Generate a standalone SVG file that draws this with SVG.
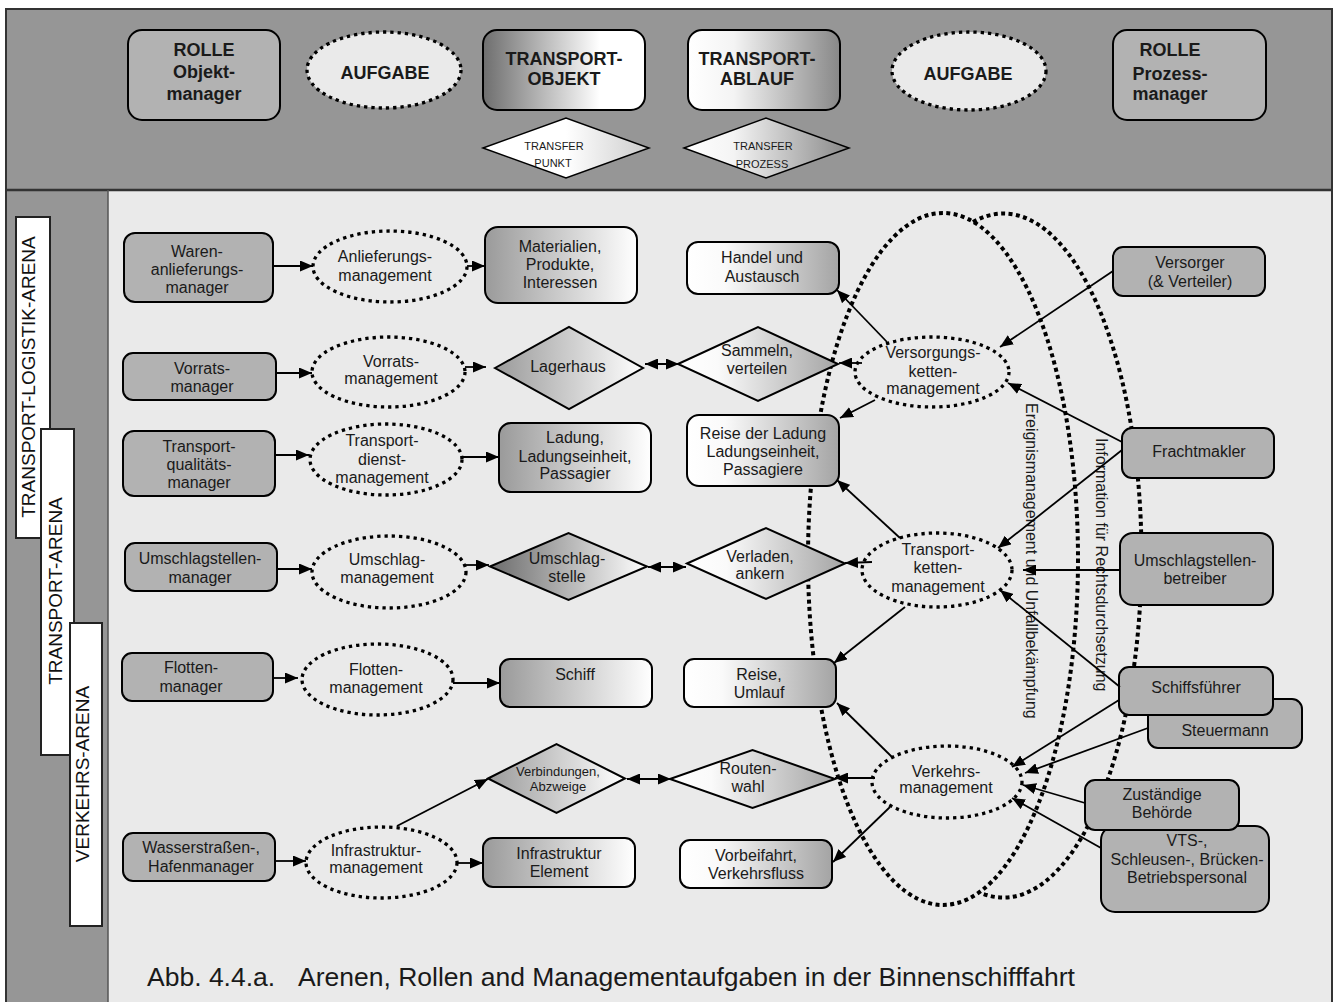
<svg xmlns="http://www.w3.org/2000/svg" width="1336" height="1002" viewBox="0 0 1336 1002">
<style>
text{font-family:"Liberation Sans",Arial,sans-serif;fill:#1a1a1a;text-anchor:middle}
.t{font-size:16px}
.hb{font-size:18px;font-weight:bold}
.sm{font-size:11px}
.s13{font-size:13px}
.arena{font-size:19px;fill:#111}
.cap{font-size:26.5px;text-anchor:start}
.vt{font-size:16px;text-anchor:start}
.role{fill:#b2b2b2;stroke:#000;stroke-width:2}
.obj{fill:url(#gObj);stroke:#000;stroke-width:2}
.proc{fill:url(#gProc);stroke:#000;stroke-width:2}
.task{fill:#eaeaea;stroke:#000;stroke-width:3.3;stroke-dasharray:3.3 4}
.big{fill:none;stroke:#000;stroke-width:4;stroke-dasharray:4 3.4}
.c{fill:none;stroke:#000;stroke-width:1.8;marker-end:url(#ah)}
.d{fill:none;stroke:#000;stroke-width:1.8;marker-end:url(#ah);marker-start:url(#ah)}
.lab{fill:#fff;stroke:#222;stroke-width:2}
</style>
<defs>
<linearGradient id="gObj" x1="0" y1="0" x2="1" y2="0"><stop offset="0" stop-color="#9a9a9a"/><stop offset="1" stop-color="#ffffff"/></linearGradient>
<linearGradient id="gObjD" x1="0" y1="0" x2="1" y2="0"><stop offset="0" stop-color="#6c6c6c"/><stop offset="1" stop-color="#ffffff"/></linearGradient>
<linearGradient id="gHObj" x1="0" y1="0" x2="1" y2="0"><stop offset="0" stop-color="#6e6e6e"/><stop offset="0.72" stop-color="#ffffff"/><stop offset="1" stop-color="#ffffff"/></linearGradient>
<linearGradient id="gProc" x1="0" y1="0" x2="1" y2="0"><stop offset="0" stop-color="#ffffff"/><stop offset="0.25" stop-color="#fafafa"/><stop offset="1" stop-color="#a4a4a4"/></linearGradient>
<linearGradient id="gHProc" x1="0" y1="0" x2="1" y2="0"><stop offset="0" stop-color="#ffffff"/><stop offset="0.3" stop-color="#f4f4f4"/><stop offset="1" stop-color="#888888"/></linearGradient>
<linearGradient id="gPunkt" x1="0" y1="0" x2="1" y2="0"><stop offset="0" stop-color="#ffffff"/><stop offset="0.5" stop-color="#ffffff"/><stop offset="1" stop-color="#cccccc"/></linearGradient>
<marker id="ah" viewBox="0 0 13 11" refX="13" refY="5.5" markerWidth="13" markerHeight="11" markerUnits="userSpaceOnUse" orient="auto-start-reverse"><path d="M0,0 L13,5.5 L0,11 z" fill="#000"/></marker>
</defs>

<g id="frame">
<rect x="6" y="9" width="1326" height="181" fill="#969696"/>
<rect x="6" y="190" width="102" height="815" fill="#969696"/>
<rect x="108" y="190" width="1224" height="815" fill="#eaeaea"/>
<path d="M6,1005 V9 H1332 V1005" fill="none" stroke="#333" stroke-width="2"/>
<line x1="6" y1="190" x2="1332" y2="190" stroke="#333" stroke-width="2.5"/>
<line x1="108" y1="190" x2="108" y2="1005" stroke="#555" stroke-width="1.5"/>
</g>

<g id="header">
<g id="h-rolle-objekt"><rect class="role" x="128" y="30" width="152" height="90" rx="14"/>
<text class="hb"><tspan x="204" y="56">ROLLE</tspan><tspan x="204" y="78">Objekt-</tspan><tspan x="204" y="100">manager</tspan></text></g>
<g id="h-aufgabe-1"><ellipse class="task" cx="384" cy="70" rx="77" ry="38" fill="#ebebeb"/><text class="hb" x="385" y="79">AUFGABE</text></g>
<g id="h-transport-objekt"><rect x="483" y="30" width="162" height="80" rx="14" fill="url(#gHObj)" stroke="#000" stroke-width="2"/>
<text class="hb"><tspan x="564" y="65">TRANSPORT-</tspan><tspan x="564" y="85">OBJEKT</tspan></text></g>
<g id="h-transfer-punkt"><polygon points="483,148 566,118 649,148 566,178" fill="url(#gPunkt)" stroke="#000" stroke-width="1.5"/>
<text class="sm"><tspan x="554" y="150">TRANSFER</tspan><tspan x="553" y="167">PUNKT</tspan></text></g>
<g id="h-transport-ablauf"><rect x="688" y="30" width="152" height="80" rx="14" fill="url(#gHProc)" stroke="#000" stroke-width="2"/>
<text class="hb"><tspan x="757" y="65">TRANSPORT-</tspan><tspan x="757" y="85">ABLAUF</tspan></text></g>
<g id="h-transfer-prozess"><polygon points="684,148 766,118 849,148 766,178" fill="url(#gHProc)" stroke="#000" stroke-width="1.5"/>
<text class="sm"><tspan x="763" y="150">TRANSFER</tspan><tspan x="762" y="168">PROZESS</tspan></text></g>
<g id="h-aufgabe-2"><ellipse class="task" cx="969" cy="71" rx="77" ry="39" fill="#ebebeb"/><text class="hb" x="968" y="80">AUFGABE</text></g>
<g id="h-rolle-prozess"><rect class="role" x="1113" y="30" width="153" height="90" rx="14"/>
<text class="hb"><tspan x="1170" y="56">ROLLE</tspan><tspan x="1170" y="80">Prozess-</tspan><tspan x="1170" y="100">manager</tspan></text></g>
</g>

<g id="arenas">
<g id="arena-tla"><rect class="lab" x="16" y="217" width="34" height="321"/><text class="arena" transform="translate(35,377) rotate(-90)">TRANSPORT-LOGISTIK-ARENA</text></g>
<g id="arena-ta"><rect class="lab" x="41" y="429" width="33" height="326"/><text class="arena" transform="translate(62,591) rotate(-90)">TRANSPORT-ARENA</text></g>
<g id="arena-va"><rect class="lab" x="70" y="623" width="32" height="303"/><text class="arena" transform="translate(89,774) rotate(-90)">VERKEHRS-ARENA</text></g>
</g>

<g id="big-ellipses">
<ellipse id="e-ereignis" class="big" cx="943" cy="559" rx="135" ry="346"/>
<path id="e-information" class="big" d="M973,222 A138,342 0 1 1 981,893"/>
<text class="vt" transform="translate(1026,403) rotate(90)">Ereignismanagement und Unfallbekämpfung</text>
<text class="vt" transform="translate(1096,438) rotate(90)">Information für Rechtsdurchsetzung</text>
</g>

<g id="nodes">
<g id="n-waren"><rect class="role" x="124" y="233" width="149" height="69" rx="11"/><text class="t"><tspan x="197" y="257">Waren-</tspan><tspan x="197" y="275">anlieferungs-</tspan><tspan x="197" y="293">manager</tspan></text></g>
<g id="n-anlieferung"><ellipse class="task" cx="390" cy="266.5" rx="77" ry="35.5"/><text class="t"><tspan x="385" y="262">Anlieferungs-</tspan><tspan x="385" y="281">management</tspan></text></g>
<g id="n-materialien"><rect class="obj" x="485" y="227" width="152" height="76" rx="13"/><text class="t"><tspan x="560" y="252">Materialien,</tspan><tspan x="560" y="270">Produkte,</tspan><tspan x="560" y="288">Interessen</tspan></text></g>
<g id="n-handel"><rect class="proc" x="687" y="242" width="152" height="52" rx="11"/><text class="t"><tspan x="762" y="263">Handel und</tspan><tspan x="762" y="282">Austausch</tspan></text></g>

<g id="n-vorrats"><rect class="role" x="123" y="353" width="153" height="47" rx="10"/><text class="t"><tspan x="202" y="374">Vorrats-</tspan><tspan x="202" y="392">manager</tspan></text></g>
<g id="n-vorratsmgmt"><ellipse class="task" cx="388.5" cy="372" rx="76.5" ry="35"/><text class="t"><tspan x="391" y="367">Vorrats-</tspan><tspan x="391" y="384">management</tspan></text></g>
<g id="n-lagerhaus"><polygon class="obj" points="495,368 569,327 643,368 569,409"/><text class="t" x="568" y="372">Lagerhaus</text></g>
<g id="n-sammeln"><polygon class="proc" points="678,364 758,327 838,364 758,401"/><text class="t"><tspan x="757" y="356">Sammeln,</tspan><tspan x="757" y="374">verteilen</tspan></text></g>

<g id="n-tqm"><rect class="role" x="123" y="431" width="152" height="65" rx="11"/><text class="t"><tspan x="199" y="452">Transport-</tspan><tspan x="199" y="470">qualitäts-</tspan><tspan x="199" y="488">manager</tspan></text></g>
<g id="n-tdm"><ellipse class="task" cx="386" cy="459.5" rx="76" ry="35.5"/><text class="t"><tspan x="382" y="446">Transport-</tspan><tspan x="382" y="465">dienst-</tspan><tspan x="382" y="483">management</tspan></text></g>
<g id="n-ladung"><rect class="obj" x="499" y="423" width="152" height="69" rx="12"/><text class="t"><tspan x="575" y="443">Ladung,</tspan><tspan x="575" y="462">Ladungseinheit,</tspan><tspan x="575" y="479">Passagier</tspan></text></g>
<g id="n-reise-ladung"><rect class="proc" x="687" y="415" width="152" height="71" rx="12"/><text class="t"><tspan x="763" y="439">Reise der Ladung</tspan><tspan x="763" y="457">Ladungseinheit,</tspan><tspan x="763" y="475">Passagiere</tspan></text></g>

<g id="n-usm"><rect class="role" x="125" y="543" width="152" height="48" rx="10"/><text class="t"><tspan x="200" y="564">Umschlagstellen-</tspan><tspan x="200" y="583">manager</tspan></text></g>
<g id="n-umschlagmgmt"><ellipse class="task" cx="389" cy="572" rx="77" ry="36"/><text class="t"><tspan x="387" y="565">Umschlag-</tspan><tspan x="387" y="583">management</tspan></text></g>
<g id="n-umschlagstelle"><polygon points="490,566.5 568.5,533 647,566.5 568.5,600" fill="url(#gObjD)" stroke="#000" stroke-width="2"/><text class="t"><tspan x="567" y="564">Umschlag-</tspan><tspan x="567" y="582">stelle</tspan></text></g>
<g id="n-verladen"><polygon class="proc" points="687,563.5 766,528 845,563.5 766,599"/><text class="t"><tspan x="760" y="562">Verladen,</tspan><tspan x="760" y="579">ankern</tspan></text></g>

<g id="n-flotten"><rect class="role" x="122" y="653" width="151" height="48" rx="10"/><text class="t"><tspan x="191" y="673">Flotten-</tspan><tspan x="191" y="692">manager</tspan></text></g>
<g id="n-flottenmgmt"><ellipse class="task" cx="377.5" cy="679.5" rx="75.5" ry="35.5"/><text class="t"><tspan x="376" y="675">Flotten-</tspan><tspan x="376" y="693">management</tspan></text></g>
<g id="n-schiff"><rect class="obj" x="500" y="659" width="152" height="48" rx="10"/><text class="t" x="575" y="680">Schiff</text></g>
<g id="n-reise-umlauf"><rect class="proc" x="684" y="659" width="152" height="48" rx="10"/><text class="t"><tspan x="759" y="680">Reise,</tspan><tspan x="759" y="698">Umlauf</tspan></text></g>

<g id="n-verbindungen"><polygon class="obj" points="488,778.5 556.5,744 625,778.5 556.5,813"/><text class="s13"><tspan x="558" y="776">Verbindungen,</tspan><tspan x="558" y="791">Abzweige</tspan></text></g>
<g id="n-routen"><polygon class="proc" points="670,779 752.5,750 835,779 752.5,808"/><text class="t"><tspan x="748" y="774">Routen-</tspan><tspan x="748" y="792">wahl</tspan></text></g>

<g id="n-wasser"><rect class="role" x="123" y="833" width="152" height="48" rx="10"/><text class="t"><tspan x="201" y="853">Wasserstraßen-,</tspan><tspan x="201" y="872">Hafenmanager</tspan></text></g>
<g id="n-inframgmt"><ellipse class="task" cx="381.5" cy="862.5" rx="75.5" ry="35.5"/><text class="t"><tspan x="376" y="856">Infrastruktur-</tspan><tspan x="376" y="873">management</tspan></text></g>
<g id="n-infraelement"><rect class="obj" x="483" y="838" width="152" height="49" rx="10"/><text class="t"><tspan x="559" y="859">Infrastruktur</tspan><tspan x="559" y="877">Element</tspan></text></g>
<g id="n-vorbeifahrt"><rect class="proc" x="680" y="840" width="152" height="48" rx="10"/><text class="t"><tspan x="756" y="861">Vorbeifahrt,</tspan><tspan x="756" y="879">Verkehrsfluss</tspan></text></g>

<g id="n-versorgungskette"><ellipse class="task" cx="932" cy="372" rx="77" ry="35"/><text class="t"><tspan x="933" y="358">Versorgungs-</tspan><tspan x="933" y="377">ketten-</tspan><tspan x="933" y="394">management</tspan></text></g>
<g id="n-transportkette"><ellipse class="task" cx="937" cy="570" rx="75" ry="37"/><text class="t"><tspan x="938" y="555">Transport-</tspan><tspan x="938" y="573">ketten-</tspan><tspan x="938" y="592">management</tspan></text></g>
<g id="n-verkehrsmgmt"><ellipse class="task" cx="947" cy="782" rx="75" ry="36"/><text class="t"><tspan x="946" y="777">Verkehrs-</tspan><tspan x="946" y="793">management</tspan></text></g>

<g id="n-versorger"><rect class="role" x="1113" y="247" width="152" height="49" rx="10"/><text class="t"><tspan x="1190" y="268">Versorger</tspan><tspan x="1190" y="287">(&amp; Verteiler)</tspan></text></g>
<g id="n-frachtmakler"><rect class="role" x="1122" y="428" width="152" height="50" rx="10"/><text class="t" x="1199" y="457">Frachtmakler</text></g>
<g id="n-usbetreiber"><rect class="role" x="1120" y="533" width="153" height="72" rx="13"/><text class="t"><tspan x="1195" y="566">Umschlagstellen-</tspan><tspan x="1195" y="584">betreiber</tspan></text></g>
<g id="n-steuermann"><rect class="role" x="1148" y="699" width="154" height="49" rx="10"/><text class="t" x="1225" y="736">Steuermann</text></g>
<g id="n-schiffsfuehrer"><rect class="role" x="1119" y="667" width="154" height="48" rx="10"/><text class="t" x="1196" y="693">Schiffsführer</text></g>
<g id="n-vts"><rect class="role" x="1101" y="826" width="168" height="86" rx="14"/><text class="t"><tspan x="1187" y="846">VTS-,</tspan><tspan x="1187" y="865">Schleusen-, Brücken-</tspan><tspan x="1187" y="883">Betriebspersonal</tspan></text></g>
<g id="n-zustaendige"><rect class="role" x="1085" y="780" width="154" height="50" rx="10"/><text class="t"><tspan x="1162" y="800">Zuständige</tspan><tspan x="1162" y="818">Behörde</tspan></text></g>
</g>

<g id="connectors">
<path class="c" d="M273,266 L313,266"/>
<path class="c" d="M467,266 L485,266"/>
<path class="c" d="M276,373 L312,373"/>
<path class="c" d="M465,367 L486,367"/>
<path class="c" d="M275,455 L309,455"/>
<path class="c" d="M462,457 L499,457"/>
<path class="c" d="M277,569 L312,569"/>
<path class="c" d="M466,565 L489,565"/>
<path class="c" d="M273,678 L298,678"/>
<path class="c" d="M453,683 L500,683"/>
<path class="c" d="M275,861 L306,861"/>
<path class="c" d="M457,863 L483,863"/>
<path class="c" d="M397,826 L488,779"/>
<path class="d" d="M645,364 L679,364"/>
<path class="d" d="M648,567 L686,567"/>
<path class="d" d="M627,779 L671,779"/>
<path class="c" d="M887,342 L837,290"/>
<path class="c" d="M862,363 L839,363"/>
<path class="c" d="M875,400 L840,418"/>
<path class="c" d="M1113,271 L1000,347"/>
<path class="c" d="M1122,442 L1008,383"/>
<path class="c" d="M1122,450 L998,548"/>
<path class="c" d="M900,538 L837,480"/>
<path class="c" d="M872,562 L845,563"/>
<path class="c" d="M1120,570 L1023,570"/>
<path class="c" d="M1120,687 L1000,590"/>
<path class="c" d="M905,607 L834,663"/>
<path class="c" d="M892,757 L837,703"/>
<path class="c" d="M875,778 L835,778"/>
<path class="c" d="M890,807 L833,862"/>
<path class="c" d="M1119,700 L1012,767"/>
<path class="c" d="M1148,728 L1025,773"/>
<path class="c" d="M1085,803 L1023,785"/>
<path class="c" d="M1101,848 L1012,798"/>
</g>

<g id="caption">
<text class="cap" x="147" y="986">Abb. 4.4.a.</text>
<text class="cap" x="298" y="986">Arenen, Rollen and Managementaufgaben in der Binnenschifffahrt</text>
</g>
</svg>
